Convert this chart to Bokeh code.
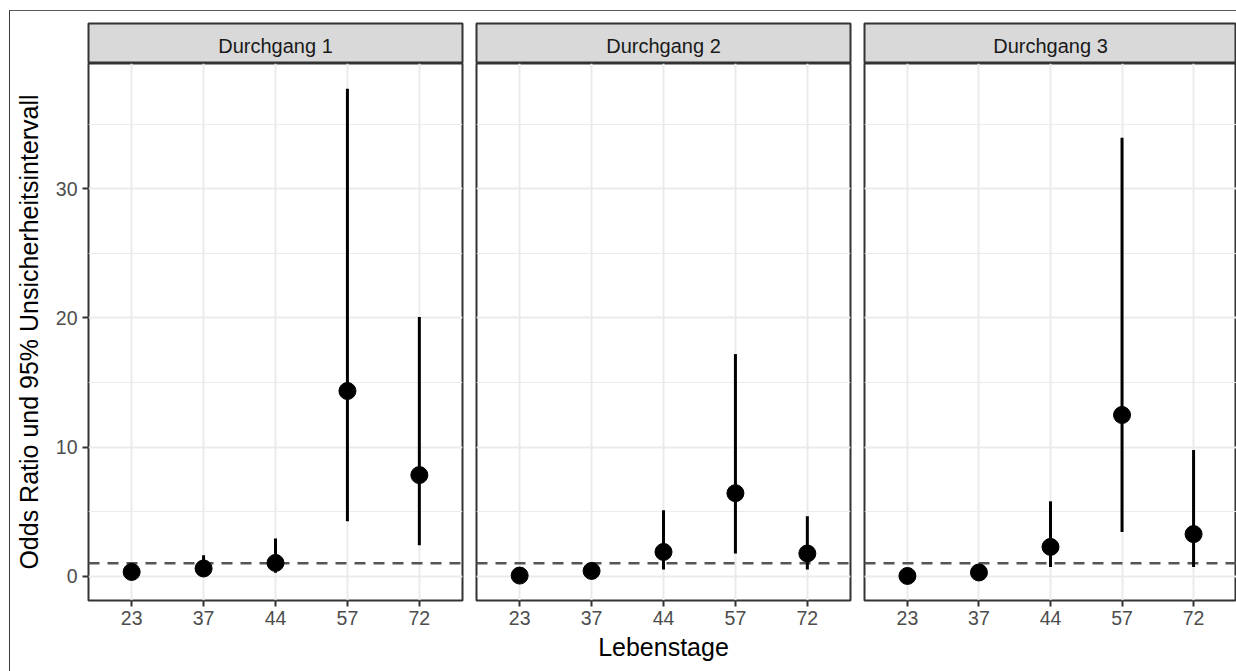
from bokeh.plotting import figure
from bokeh.models import FactorRange, Range1d, Span, SingleIntervalTicker, ColumnDataSource
from bokeh.layouts import row, column
from bokeh.core.properties import value
from bokeh.embed import file_html
from bokeh.resources import INLINE

# ---- data ----
days = ["23", "37", "44", "57", "72"]
panels = ["Durchgang 1", "Durchgang 2", "Durchgang 3"]

or1 = [0.33, 0.60, 1.03, 14.34, 7.83]
lo1 = [0.10, 0.25, 0.26, 4.26, 2.40]
hi1 = [1.03, 1.63, 2.92, 37.75, 20.08]

or2 = [0.05, 0.41, 1.88, 6.43, 1.76]
lo2 = [0.01, 0.15, 0.52, 1.76, 0.52]
hi2 = [0.30, 1.00, 5.10, 17.20, 4.65]

or3 = [0.02, 0.29, 2.27, 12.48, 3.26]
lo3 = [0.00, 0.08, 0.72, 3.43, 0.72]
hi3 = [0.15, 0.70, 5.80, 33.95, 9.77]

reference_line = 1.0
y_label = "Odds Ratio und 95% Unsicherheitsintervall"
x_label = "Lebenstage"

series = [(or1, lo1, hi1), (or2, lo2, hi2), (or3, lo3, hi3)]

FONT = "Liberation Sans"
Y0, Y1 = -1.88, 39.7

# per-panel layout: (fig width, min_border_left, min_border_right)
geom = [(459, 78, 7), (388, 7, 7), (379, 7, 0)]
STRIP_H = 52
PANEL_H = 608

strips = []
plots = []
for i, (name, (orv, lov, hiv)) in enumerate(zip(panels, series)):
    w, bl, br = geom[i]

    # strip
    s = figure(width=w, height=STRIP_H, x_range=Range1d(0, 1), y_range=Range1d(0, 1),
               x_axis_location=None, y_axis_location=None, toolbar_location=None,
               output_backend="svg", min_border_left=bl, min_border_right=br,
               min_border_top=12, min_border_bottom=0,
               background_fill_color="#D9D9D9", border_fill_color="white",
               outline_line_color="#333333", outline_line_width=2)
    s.grid.visible = False
    s.text(x=[0.5], y=[0.45], text=[name], text_align="center", text_baseline="middle",
           text_font=value(FONT), text_font_size="20px", text_color="#1A1A1A")
    strips.append(s)

    # panel
    xr = FactorRange(factors=days, range_padding=0.1, range_padding_units="absolute")
    p = figure(width=w, height=PANEL_H, x_range=xr, y_range=Range1d(Y0, Y1),
               y_axis_location="left" if i == 0 else None,
               toolbar_location=None, output_backend="svg",
               min_border_left=bl, min_border_right=br, min_border_top=0, min_border_bottom=71,
               background_fill_color="white", border_fill_color="white",
               outline_line_color="#333333", outline_line_width=2)

    p.ygrid.ticker = SingleIntervalTicker(interval=10, num_minor_ticks=2)
    p.ygrid.grid_line_color = "#EBEBEB"
    p.ygrid.grid_line_width = 2
    p.ygrid.minor_grid_line_color = "#EBEBEB"
    p.ygrid.minor_grid_line_width = 1
    p.xgrid.grid_line_color = "#EBEBEB"
    p.xgrid.grid_line_width = 2

    if i == 0:
        ax = p.yaxis[0]
        ax.ticker = SingleIntervalTicker(interval=10, num_minor_ticks=2)
        ax.axis_line_color = None
        ax.major_tick_line_color = "#333333"
        ax.major_tick_line_width = 2
        ax.major_tick_out = 6
        ax.major_tick_in = 0
        ax.minor_tick_line_color = None
        ax.major_label_text_font = FONT
        ax.major_label_text_font_size = "19.5px"
        ax.major_label_text_color = "#4D4D4D"
        ax.major_label_standoff = 5
        ax.axis_label = y_label
        ax.axis_label_text_font = FONT
        ax.axis_label_text_font_size = "25px"
        ax.axis_label_text_font_style = "normal"
        ax.axis_label_text_color = "black"
        ax.axis_label_standoff = 10

    xa = p.xaxis[0]
    xa.axis_line_color = None
    xa.major_tick_line_color = "#333333"
    xa.major_tick_line_width = 2
    xa.major_tick_out = 6
    xa.major_tick_in = 0
    xa.minor_tick_line_color = None
    xa.major_label_text_font = FONT
    xa.major_label_text_font_size = "19.5px"
    xa.major_label_text_color = "#4D4D4D"
    xa.major_label_standoff = 4
    if i == 1:
        xa.axis_label = x_label
        xa.axis_label_text_font = FONT
        xa.axis_label_text_font_size = "25px"
        xa.axis_label_text_font_style = "normal"
        xa.axis_label_text_color = "black"
        xa.axis_label_standoff = 5

    hline = Span(location=reference_line, dimension="width", line_color="#555555",
                 line_width=2.5, line_dash="11 8", level="underlay")
    p.add_layout(hline)

    src = ColumnDataSource(dict(x=days, y=orv, lo=lov, hi=hiv))
    p.segment(x0="x", y0="lo", x1="x", y1="hi", source=src, line_color="black", line_width=3)
    p.scatter(x="x", y="y", source=src, size=17, fill_color="black", line_color="black")
    plots.append(p)

root = column(row(*strips), row(*plots), margin=(10, 0, 0, 9),
              styles={"border-top": "1px solid #5a5a5a", "border-left": "1px solid #3a3a3a"})

open("out.html", "w").write(file_html(root, INLINE))
